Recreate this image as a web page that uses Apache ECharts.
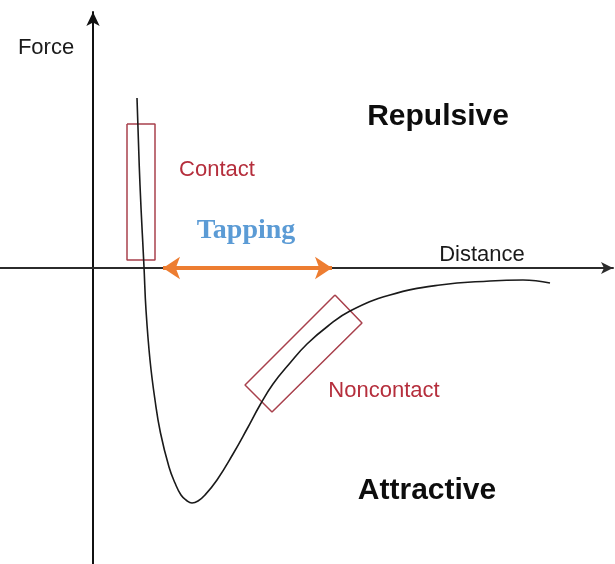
<!DOCTYPE html>
<html>
<head>
<meta charset="utf-8">
<script src="https://cdn.jsdelivr.net/npm/echarts@6/dist/echarts.min.js"></script>
<style>
  html, body { margin: 0; padding: 0; background: #fff; }
  #main { width: 615px; height: 564px; }
</style>
</head>
<body>
<div id="main"></div>
<script>
// force-distance curve (arbitrary units)
const distance = [44, 47, 51, 53, 57, 62, 67.5, 76, 82, 88, 93, 99, 105, 112, 124, 140, 154, 167, 180, 197, 214, 235, 257, 297, 347, 397, 430, 457];
const force = [170, 83, 1, -42, -92, -132, -165, -199, -215, -227, -232, -235, -233, -227, -212, -186, -161, -137, -116, -95, -76, -58, -43, -27, -17, -13, -12, -15];

// boxes and the tapping range
const contactBox = [[34, 144], [62, 144], [62, 8], [34, 8], [34, 144]];
const noncontactBox = [[242, -27], [269, -55], [179, -144], [152, -117], [242, -27]];
const tappingRange = [70, 239];

const labels = ['Force', 'Distance', 'Repulsive', 'Attractive', 'Contact', 'Noncontact', 'Tapping'];

var myChart = echarts.init(document.getElementById('main'));

var dark = '#1a1a1a';
var red = '#b52e3c';

function textPoint(name, x, y, style) {
    return {
        value: [x, y],
        label: Object.assign({
            show: true,
            position: 'inside',
            formatter: name,
            opacity: 1,
            fontFamily: 'Liberation Sans, Arial, sans-serif'
        }, style)
    };
}

option = {
    animation: false,
    backgroundColor: '#fff',
    grid: { left: 0, right: 2, top: 12, bottom: 0 },
    xAxis: {
        type: 'value',
        min: -93,
        max: 520,
        axisLine: {
            onZero: true,
            symbol: ['none', 'arrow'],
            symbolSize: [9, 12],
            lineStyle: { color: '#2b2b2b', width: 2 }
        },
        axisTick: { show: false },
        axisLabel: { show: false },
        splitLine: { show: false }
    },
    yAxis: {
        type: 'value',
        min: -296,
        max: 256,
        axisLine: {
            onZero: true,
            symbol: ['none', 'arrow'],
            symbolSize: [10, 14],
            lineStyle: { color: '#111', width: 2 }
        },
        axisTick: { show: false },
        axisLabel: { show: false },
        splitLine: { show: false }
    },
    series: [
        {
            name: 'curve',
            type: 'line',
            smooth: 0.45,
            symbol: 'none',
            lineStyle: { color: dark, width: 1.6 },
            data: distance.map((d, i) => [d, force[i]]),
            z: 3
        },
        {
            name: 'contact box',
            type: 'line',
            symbol: 'none',
            lineStyle: { color: '#a8404c', width: 1.5 },
            data: contactBox,
            z: 2
        },
        {
            name: 'noncontact box',
            type: 'line',
            symbol: 'none',
            lineStyle: { color: '#a8404c', width: 1.5 },
            data: noncontactBox,
            z: 2
        },
        {
            name: 'tapping',
            type: 'line',
            symbol: 'none',
            data: [],
            markLine: {
                silent: true,
                symbol: ['arrow', 'arrow'],
                symbolSize: [17, 17],
                label: { show: false },
                lineStyle: { color: '#ed7d31', width: 4, type: 'solid', opacity: 1 },
                data: [[{ coord: [tappingRange[0], 0] }, { coord: [tappingRange[1], 0] }]]
            },
            z: 4
        },
        {
            name: 'labels',
            type: 'scatter',
            symbolSize: 0,
            silent: true,
            itemStyle: { opacity: 1 },
            data: [
                textPoint(labels[0], -47, 220, { fontSize: 22, color: '#1a1a1a' }),
                textPoint(labels[1], 389, 13, { fontSize: 22, color: '#1a1a1a' }),
                textPoint(labels[2], 345, 151, { fontSize: 30, fontWeight: 'bold', color: '#0d0d0d' }),
                textPoint(labels[3], 334, -223, { fontSize: 30, fontWeight: 'bold', color: '#0d0d0d' }),
                textPoint(labels[4], 124, 98, { fontSize: 22, color: red }),
                textPoint(labels[5], 291, -123, { fontSize: 22, color: red }),
                textPoint(labels[6], 153, 37, { fontSize: 28, fontWeight: 'bold', color: '#5b9bd5', fontFamily: 'Liberation Serif, Times New Roman, serif' })
            ],
            z: 5
        }
    ]
};
myChart.setOption(option);
</script>
</body>
</html>
